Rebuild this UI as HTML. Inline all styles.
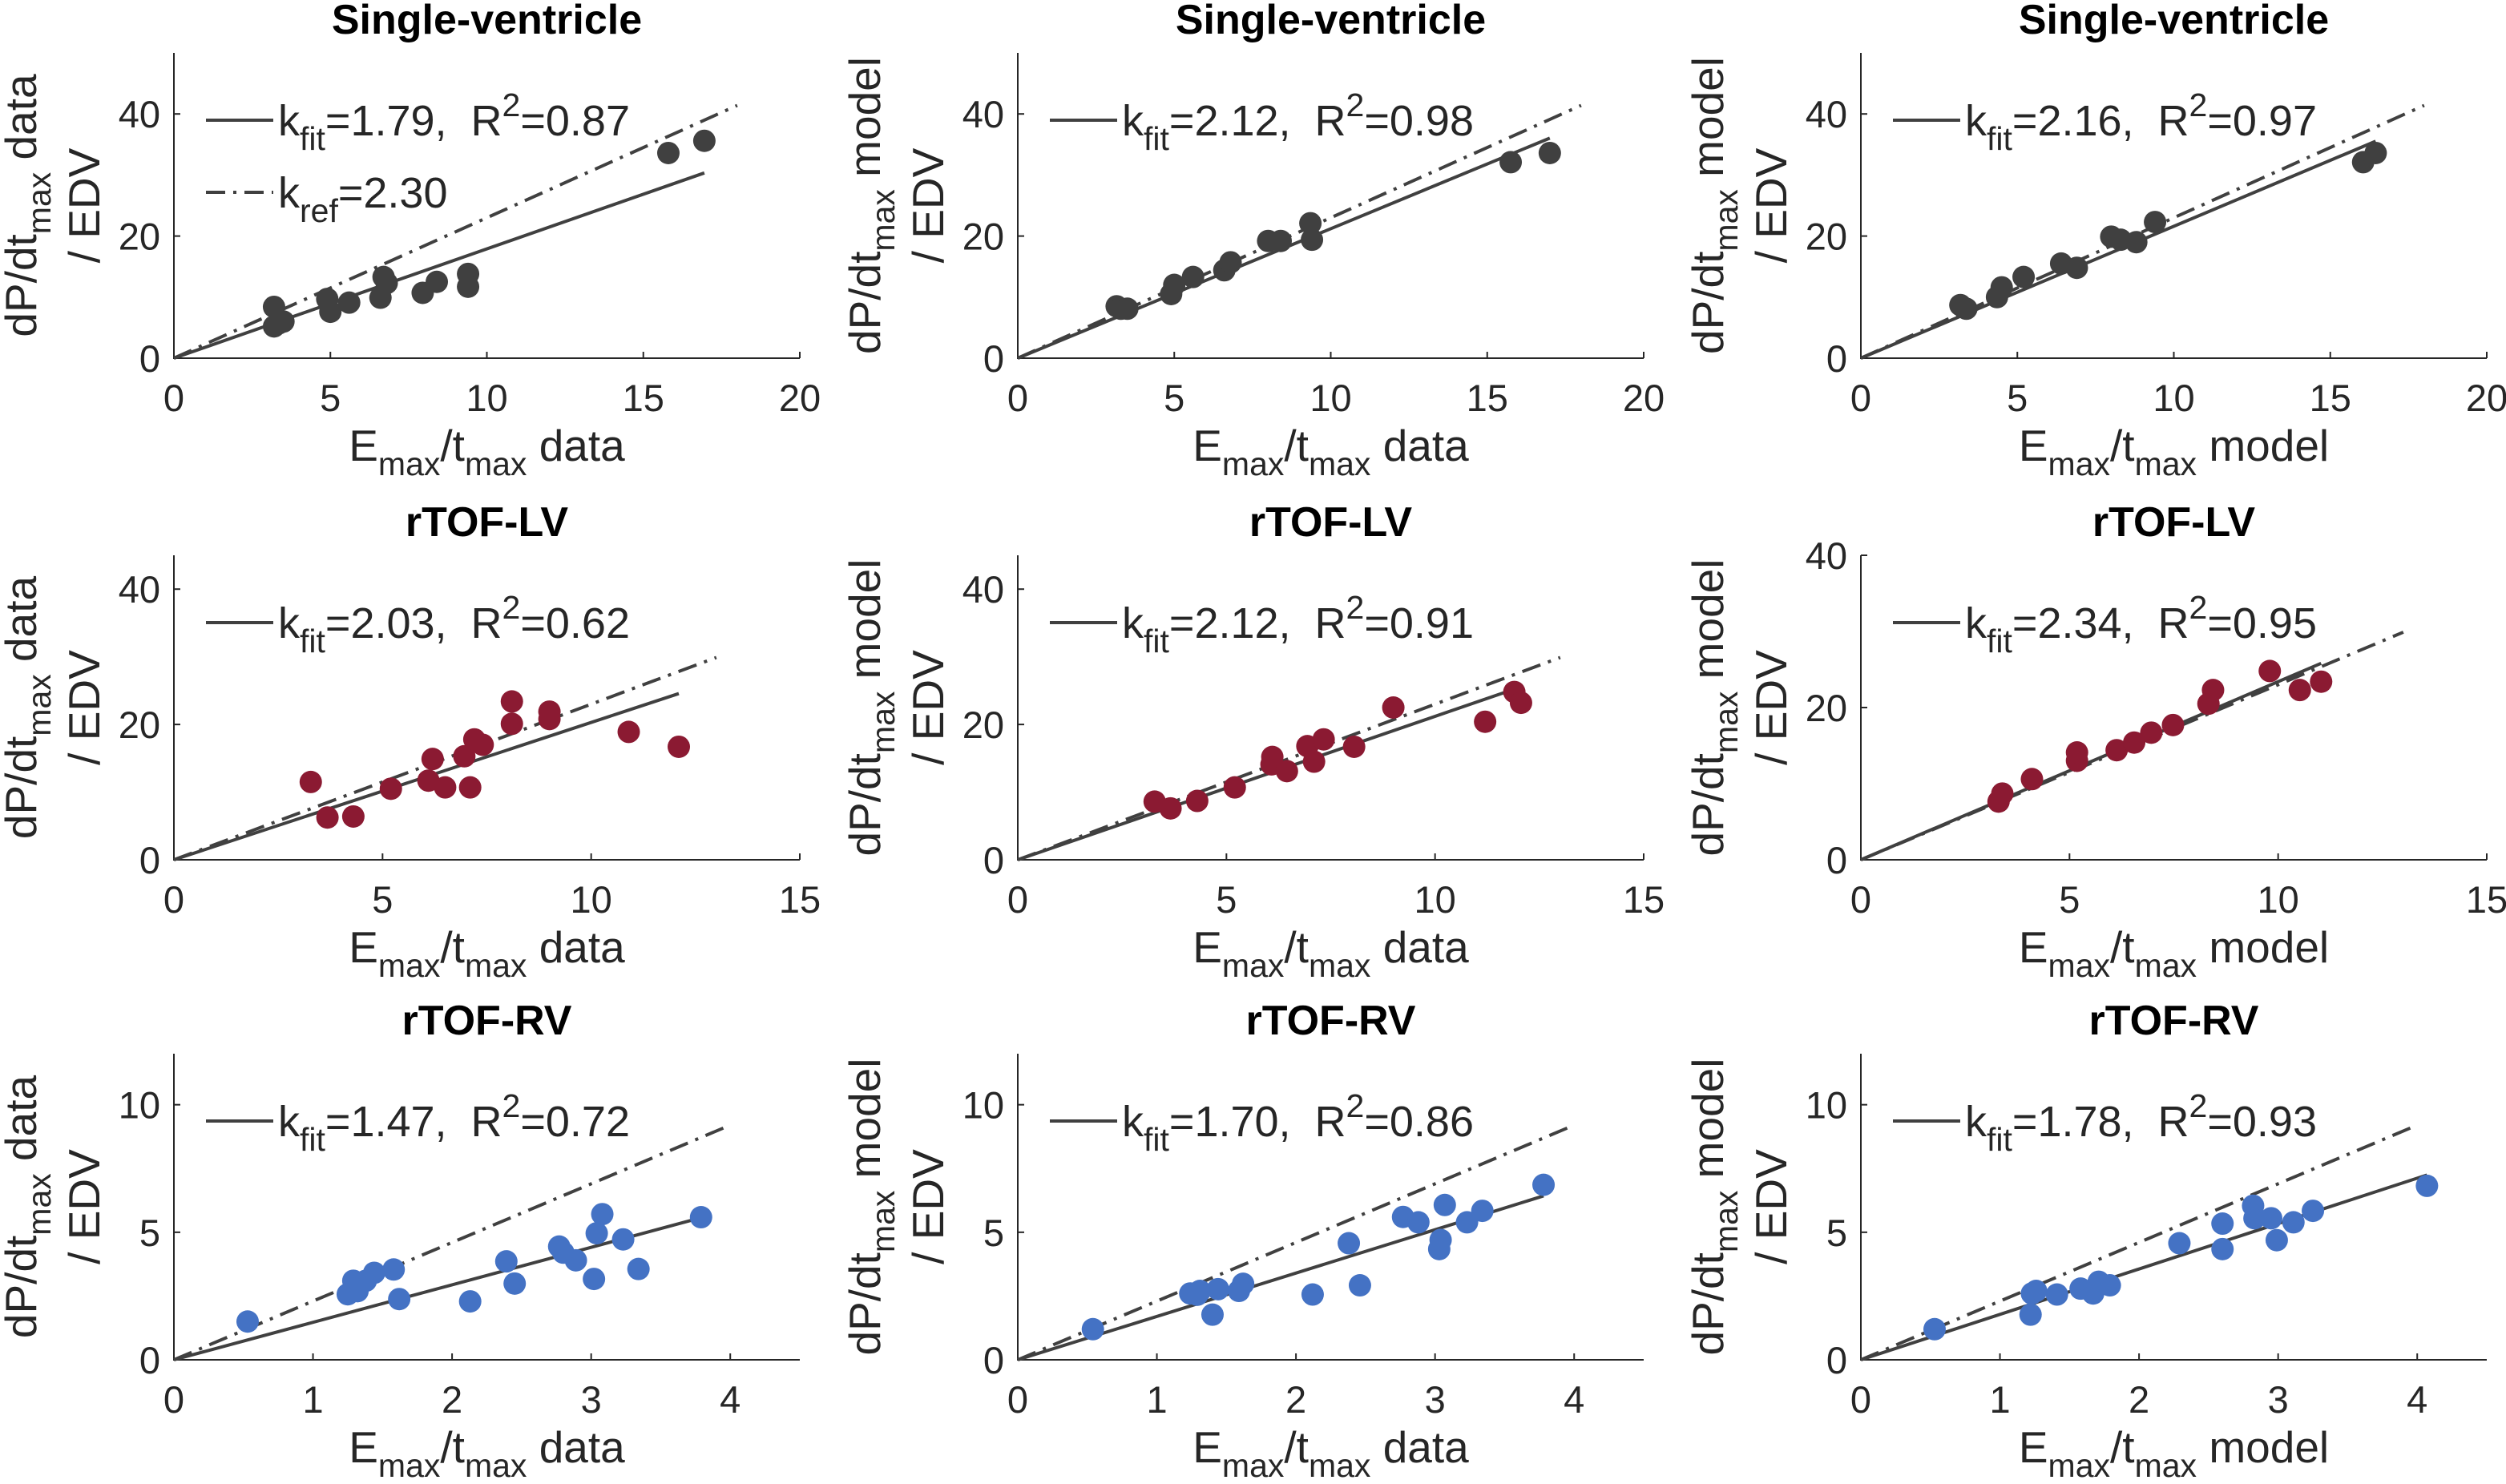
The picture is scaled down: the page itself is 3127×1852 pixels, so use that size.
<!DOCTYPE html>
<html><head><meta charset="utf-8">
<style>
html,body{margin:0;padding:0;background:#fff;}
svg{display:block;font-family:"Liberation Sans",Arial,sans-serif;}
</style></head>
<body>
<svg id="fig" width="3127" height="1852" viewBox="0 0 3127 1852" xmlns="http://www.w3.org/2000/svg"></svg>
<script>
// ---- data ----
const svDataX = [3.2,3.2,3.35,3.5,4.9,5.0,5.6,6.7,6.8,6.6,7.95,8.4,9.4,9.4,15.8,16.95];
const svDataY = [8.4,5.2,5.7,6.0,9.7,7.6,9.1,13.3,12.3,9.9,10.7,12.5,13.8,11.7,33.6,35.6];
const svModelX = [3.16,3.3,3.5,4.9,5.0,5.6,6.6,6.8,8.0,8.4,9.35,9.4,15.75,17.0];
const svModelY = [8.5,8.1,8.1,10.5,12.0,13.3,14.4,15.7,19.2,19.2,22.1,19.4,32.1,33.6];
const svMMX = [3.18,3.37,4.35,4.5,5.2,6.4,6.9,8.0,8.3,8.8,9.4,16.05,16.45];
const svMMY = [8.7,8.1,10.0,11.6,13.3,15.5,14.8,19.9,19.4,19.0,22.3,32.1,33.6];
const lvDataX = [3.28,3.68,4.3,5.2,6.1,6.2,6.5,6.96,7.1,7.2,7.4,8.1,8.1,9.0,9.0,10.9,12.1];
const lvDataY = [11.5,6.25,6.4,10.5,11.7,14.9,10.7,15.3,10.7,17.8,17.0,23.4,20.1,21.9,20.8,18.9,16.7];
const lvModelX = [3.28,3.66,4.3,5.2,6.08,6.1,6.45,6.94,7.1,7.33,8.06,9.0,11.2,11.9,12.06];
const lvModelY = [8.6,7.6,8.7,10.7,14.1,15.2,13.1,16.8,14.5,17.8,16.7,22.5,20.4,24.8,23.2];
const lvMMX = [3.3,3.39,4.1,5.18,5.18,6.13,6.55,6.96,7.48,8.33,8.44,9.8,10.52,11.03];
const lvMMY = [7.65,8.7,10.6,13.0,14.1,14.4,15.4,16.7,17.7,20.5,22.3,24.8,22.3,23.4];
const rvDataX = [0.53,1.25,1.29,1.32,1.38,1.44,1.58,1.62,2.13,2.39,2.45,2.77,2.8,2.89,3.02,3.04,3.08,3.23,3.34,3.79];
const rvDataY = [1.5,2.57,3.1,2.69,3.1,3.41,3.54,2.38,2.29,3.86,2.99,4.44,4.2,3.9,3.17,4.96,5.71,4.72,3.56,5.59];
const rvModelX = [0.54,1.24,1.29,1.31,1.4,1.44,1.59,1.62,2.12,2.38,2.46,2.77,2.88,3.03,3.04,3.07,3.23,3.34,3.78];
const rvModelY = [1.2,2.6,2.55,2.7,1.77,2.77,2.7,2.98,2.56,4.57,2.92,5.6,5.39,4.34,4.7,6.07,5.39,5.84,6.86];
const rvMMX = [0.53,1.22,1.23,1.26,1.41,1.58,1.67,1.71,1.79,2.29,2.6,2.6,2.82,2.83,2.95,2.99,3.11,3.25,4.07];
const rvMMY = [1.2,1.77,2.6,2.7,2.56,2.79,2.6,3.06,2.92,4.57,5.34,4.34,6.04,5.55,5.55,4.69,5.39,5.84,6.82];

const titles = ["Single-ventricle","Single-ventricle","Single-ventricle","rTOF-LV","rTOF-LV","rTOF-LV","rTOF-RV","rTOF-RV","rTOF-RV"];
const kFit = ["1.79","2.12","2.16","2.03","2.12","2.34","1.47","1.70","1.78"];
const rSq = ["0.87","0.98","0.97","0.62","0.91","0.95","0.72","0.86","0.93"];
const kRef = 2.30;
const xMaxes = [20,20,20,15,15,15,4.5,4.5,4.5];
const yMaxes = [50,50,50,45,45,40,12,12,12];
const xTickVals = [[0,5,10,15,20],[0,5,10,15,20],[0,5,10,15,20],[0,5,10,15],[0,5,10,15],[0,5,10,15],[0,1,2,3,4],[0,1,2,3,4],[0,1,2,3,4]];
const yTickVals = [[0,20,40],[0,20,40],[0,20,40],[0,20,40],[0,20,40],[0,20,40],[0,5,10],[0,5,10],[0,5,10]];
const refEnds = [18,18,18,13,13,13,4,4,4];
const xsAll = [svDataX,svModelX,svMMX,lvDataX,lvModelX,lvMMX,rvDataX,rvModelX,rvMMX];
const ysAll = [svDataY,svModelY,svMMY,lvDataY,lvModelY,lvMMY,rvDataY,rvModelY,rvMMY];

const NS = "http://www.w3.org/2000/svg";
const svg = document.getElementById('fig');
const colX0 = [217,1270,2322], AW = 781;
const rowTop = [66,693,1315], rowBot = [447,1073,1697];
const dotColors = ["#404040","#8b1a32","#4472c4"];
const TXT = "#262626", LINE = "#404040";

function mk(tag, attrs, parent){
  const e = document.createElementNS(NS, tag);
  for (const k in attrs) e.setAttribute(k, attrs[k]);
  (parent||svg).appendChild(e);
  return e;
}
function subText(parent, x, y, parts, size, anchor, transform){
  const t = mk('text',{x:x,y:y,'font-size':size,fill:TXT,'text-anchor':anchor||'start'},parent);
  if (transform) t.setAttribute('transform', transform);
  let shift = 0;
  parts.forEach(p=>{
    const s = document.createElementNS(NS,'tspan');
    const target = p[1]==='sub'?Math.round(size*0.33):(p[1]==='sup'?-Math.round(size*0.45):0);
    s.setAttribute('dy', target-shift); shift = target;
    if (p[1]) s.setAttribute('font-size', Math.round(size*0.75));
    s.textContent = p[0];
    t.appendChild(s);
  });
  return t;
}

for (let i=0;i<9;i++){
  const r = Math.floor(i/3), c = i%3;
  const x0 = colX0[c], x1 = x0+AW, yT = rowTop[r], yB = rowBot[r];
  const sx = v => x0 + v/xMaxes[i]*AW;
  const sy = v => yB - v/yMaxes[i]*(yB-yT);
  const g = mk('g',{});
  
  

  const tt = mk('text',{x:(x0+x1)/2,y:yT-24,'font-size':52,'font-weight':'bold',fill:'#000','text-anchor':'middle'},g);
  tt.textContent = titles[i];
  
  

  const ax = mk('path',{d:`M${x0},${yT} L${x0},${yB} L${x1},${yB}`,stroke:TXT,'stroke-width':2,fill:'none'},g);
  
  
  xTickVals[i].forEach(v=>{
    const X = sx(v);
    mk('line',{x1:X,y1:yB,x2:X,y2:yB-8,stroke:TXT,'stroke-width':2},g);
    const tl = mk('text',{x:X,y:yB+66,'font-size':47,fill:TXT,'text-anchor':'middle'},g);
    tl.textContent = String(v);
    
    
  });
  yTickVals[i].forEach(v=>{
    const Y = sy(v);
    mk('line',{x1:x0,y1:Y,x2:x0+8,y2:Y,stroke:TXT,'stroke-width':2},g);
    const tl = mk('text',{x:x0-17,y:Y+17,'font-size':47,fill:TXT,'text-anchor':'end'},g);
    tl.textContent = String(v);
    
    
  });

  const src = c===2 ? 'model' : 'data';
  const xl = subText(g,(x0+x1)/2,yB+128,[["E"],["max",'sub'],["/t"],["max",'sub'],[" "+src]],55,'middle');
  
  
  const ysrc = c===0 ? 'data' : 'model';
  const cy = (yT+yB)/2;
  const yl1 = subText(g,x0-172,cy,[["dP/dt"],["max",'sub'],[" "+ysrc]],55,'middle',`rotate(-90 ${x0-172} ${cy})`);
  
  
  const yl2 = mk('text',{x:x0-93,y:cy,'font-size':55,fill:TXT,'text-anchor':'middle',transform:`rotate(-90 ${x0-93} ${cy})`},g);
  yl2.textContent = "/ EDV";
  
  

  const xs = xsAll[i], ys = ysAll[i];
  const ref = mk('line',{x1:sx(0),y1:sy(0),x2:sx(refEnds[i]),y2:sy(kRef*refEnds[i]),stroke:LINE,'stroke-width':4,'stroke-dasharray':'24 10 4 10'},g);
  
  
  const xm = Math.max(...xs);
  const k = parseFloat(kFit[i]);
  const fit = mk('line',{x1:sx(0),y1:sy(0),x2:sx(xm),y2:sy(k*xm),stroke:LINE,'stroke-width':4},g);
  
  
  for (let j=0;j<xs.length;j++){
    const p = mk('circle',{cx:sx(xs[j]),cy:sy(ys[j]),r:14,fill:dotColors[r]},g);
    
    
  }

  const ly = yT+84;
  const ll = mk('line',{x1:x0+40,y1:ly,x2:x0+124,y2:ly,stroke:LINE,'stroke-width':4},g);
  
  
  const lt = subText(g,x0+130,ly+19,[["k"],["fit",'sub'],["="+kFit[i]+",\u00a0\u00a0R"],["2",'sup'],["="+rSq[i]]],54,'start');
  
  
  if (i===0){
    const ly2 = ly+90;
    const rl = mk('line',{x1:x0+40,y1:ly2,x2:x0+124,y2:ly2,stroke:LINE,'stroke-width':4,'stroke-dasharray':'24 10 4 10'},g);
    
    
    const rt = subText(g,x0+130,ly2+19,[["k"],["ref",'sub'],["="+kRef.toFixed(2)]],54,'start');
    
    
  }
}
</script>
</body></html>
